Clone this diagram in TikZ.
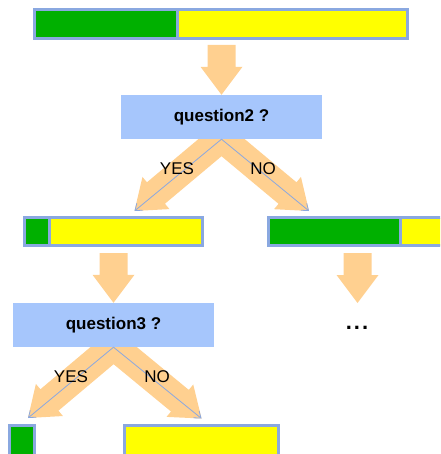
\documentclass[tikz,border=0pt]{standalone}
\usepackage{fontspec}
\setmainfont{Liberation Sans}
\usetikzlibrary{calc,arrows.meta}
\definecolor{bargreen}{RGB}{0,176,0}
\definecolor{baryellow}{RGB}{255,255,0}
\definecolor{barblue}{RGB}{138,168,224}
\definecolor{qblue}{RGB}{166,198,252}
\definecolor{fatcol}{RGB}{255,208,144}
\tikzset{
  seg/.style={draw=barblue, line width=3pt, inner sep=0pt, outer sep=0pt, minimum height=28pt},
  gseg/.style={seg, fill=bargreen},
  yseg/.style={seg, fill=baryellow},
  qbox/.style={fill=qblue, inner sep=0pt, minimum width=201pt, minimum height=44pt, font=\fontsize{17}{20}\selectfont\bfseries},
  lbl/.style={font=\fontsize{17}{20}\selectfont, inner sep=0pt},
  thin/.style={draw=barblue, line width=0.8pt, -{Straight Barb[length=6pt,width=9pt]}}
}
\newcommand\fatarrow[2]{%
  \path (#2) coordinate (fa-t) ($(#2)!28pt!(#1)$) coordinate (fa-h);
  \fill[fatcol] ($(#1)!14pt!90:(fa-t)$) -- ($(fa-h)!14pt!90:(fa-t)$) --
    ($(fa-h)!21pt!90:(fa-t)$) -- (fa-t) -- ($(fa-h)!21pt!-90:(fa-t)$) --
    ($(fa-h)!14pt!-90:(fa-t)$) -- ($(#1)!14pt!-90:(fa-t)$) -- cycle;}
\begin{document}
\begin{tikzpicture}[x={(1pt,0)}, y={(0,-1pt)}]
\useasboundingbox (0,0) rectangle (440,454);
\clip (0,0) rectangle (440,454);
% top bar
\node[gseg, minimum width=143pt, minimum height=29pt] (g1) at (106,24) {};
\node[yseg, minimum width=230pt, minimum height=29pt] (y1) at (292.5,24) {};
% question 2
\node[qbox] (q2) at (221.5,117) {question2 ?};
\coordinate (a1s) at (221.5,45);
\fatarrow{a1s}{q2.north}
% level 2 bars
\node[gseg, minimum width=24.8pt] (g2a) at (36.6,231.5) {};
\node[yseg, minimum width=153.5pt] (y2a) at (125.75,231.5) {};
\node[gseg, minimum width=132pt] (g2b) at (334.5,231.5) {};
\node[yseg, minimum width=79.5pt] (y2b) at (440.25,231.5) {};
% branches of q2
\coordinate (b2s) at (221.5,138);
\coordinate (t2l) at (134.5,211);
\coordinate (t2r) at (309,211);
\fatarrow{b2s}{t2l}
\fatarrow{b2s}{t2r}
\node[qbox] (q2b) at (221.5,117) {question2 ?};
\draw[thin] (q2b.south) -- (t2l);
\draw[thin] (q2b.south) -- (t2r);
\node[lbl] (yes2) at (177,169) {YES};
\node[lbl] (no2) at (263,169) {NO};
% level 2 arrows
\node[qbox] (q3) at (113.5,325) {question3 ?};
\coordinate (a2s) at (113.5,253);
\coordinate (a3s) at (357.5,253);
\coordinate (a3t) at (357.5,303);
\fatarrow{a2s}{q3.north}
\fatarrow{a3s}{a3t}
\node[font=\fontsize{22}{24}\selectfont\bfseries, inner sep=0pt] (dots) at (357,328) {.\hspace{2pt}.\hspace{2pt}.};
% bottom bars
\node[gseg, minimum width=25pt, minimum height=30.5pt] (g3) at (22,440.75) {};
\node[yseg, minimum width=154pt, minimum height=30.5pt] (y3) at (201.5,440.75) {};
% branches of q3
\coordinate (b3s) at (113.5,346);
\coordinate (t3l) at (28,418);
\coordinate (t3r) at (201.5,418.5);
\fatarrow{b3s}{t3l}
\fatarrow{b3s}{t3r}
\node[qbox] (q3b) at (113.5,325) {question3 ?};
\draw[thin] (q3b.south) -- (t3l);
\draw[thin] (q3b.south) -- (t3r);
\node[lbl] (yes3) at (71,377) {YES};
\node[lbl] (no3) at (157,377) {NO};
\end{tikzpicture}
\end{document}
